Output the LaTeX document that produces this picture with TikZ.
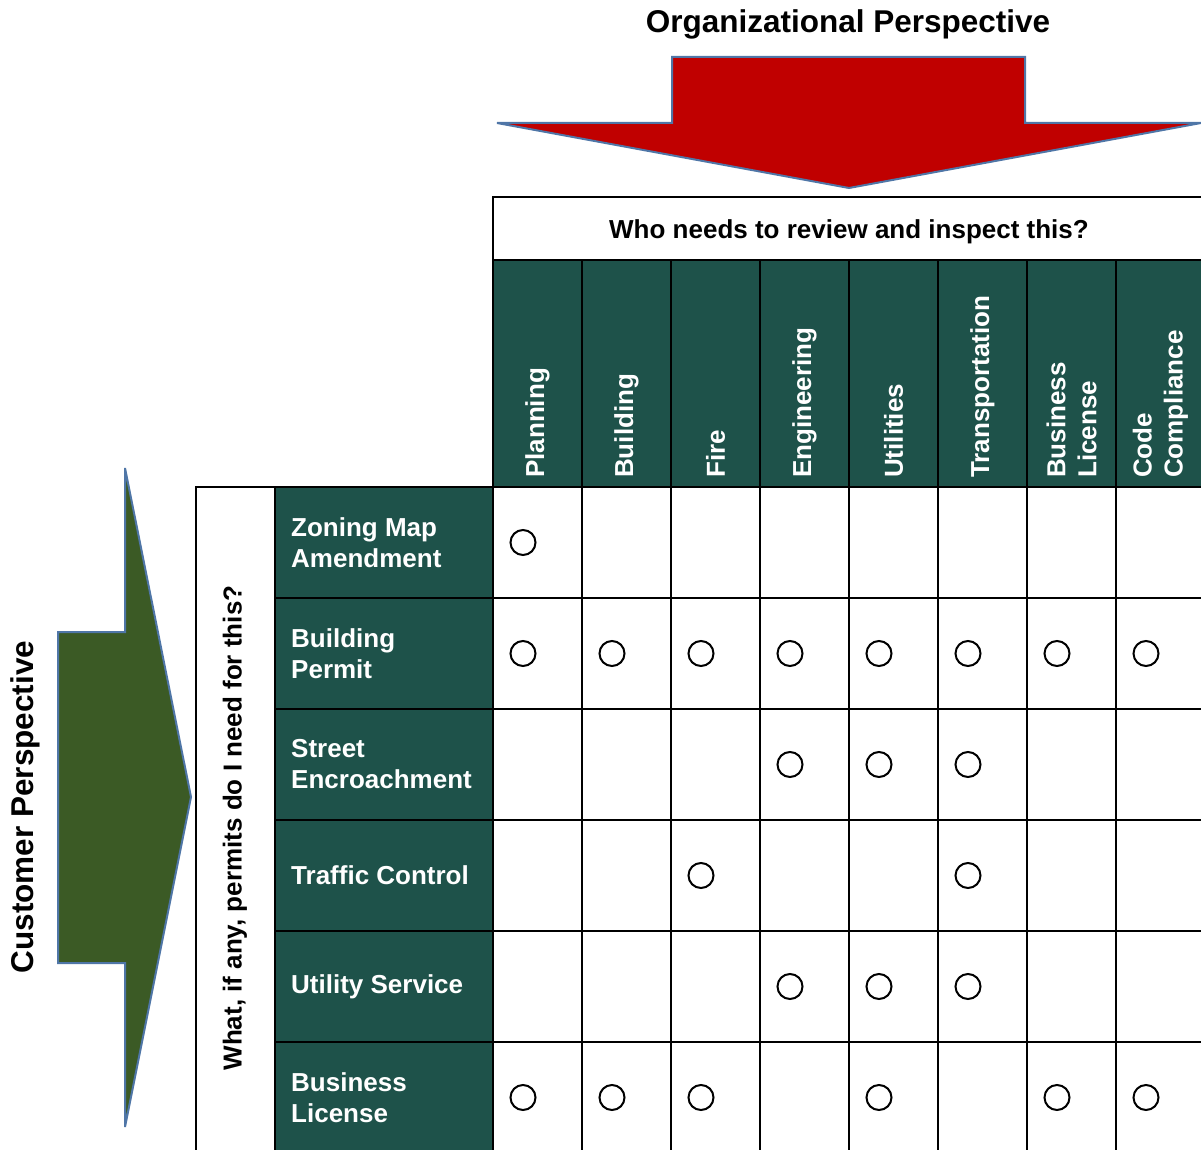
\documentclass[tikz,border=0pt]{standalone}
\usepackage{fontspec}
\setmainfont{Liberation Sans}
\usepackage{xcolor}
\usetikzlibrary{calc,positioning}

\definecolor{cellgreen}{RGB}{30,82,74}
\definecolor{arrowgreen}{RGB}{59,90,37}
\definecolor{arrowred}{RGB}{192,0,0}
\definecolor{arrowedge}{RGB}{79,118,167}

\tikzset{
    bigarrow/.style={draw=arrowedge, line width=2pt, line join=miter},
    gridline/.style={line width=2pt, black},
    titletext/.style={font=\bfseries\fontsize{31.5}{36}\selectfont, inner sep=0pt},
    qtext/.style={font=\bfseries\fontsize{26}{31}\selectfont, inner sep=0pt},
    depttext/.style={qtext, text=white, rotate=90, anchor=west, align=left},
    permittext/.style={qtext, text=white, anchor=west, align=left},
    tickcircle/.style={circle, draw, line width=2pt, minimum size=25pt, inner sep=0pt}
}

\begin{document}
\begin{tikzpicture}[x=1pt, y=-1pt]
        \useasboundingbox (0,0) rectangle (1201,1150);
        \clip (0,0) rectangle (1201,1150);

        % Parameters
        \def\gridX{493}         % left edge of the department columns
        \def\gridY{487}         % top edge of the first permit row
        \def\colW{89}           % width of a department column
        \def\rowH{111}          % height of a permit row

        % Big arrows
        \draw[bigarrow, fill=arrowred] (672,57) -- (1025,57) -- (1025,123) -- (1201,123)
            -- (849,188) -- (497,123) -- (672,123) -- cycle;
        \draw[bigarrow, fill=arrowgreen] (58,632) -- (125,632) -- (125,468) -- (191,797)
            -- (125,1127) -- (125,963) -- (58,963) -- cycle;

        % Titles
        \node[titletext] (orgtitle) at (848,24) {Organizational Perspective};
        \node[titletext, rotate=90] (custtitle) at (25,807) {Customer Perspective};

        % Heading fills
        \fill[cellgreen] (\gridX,260) rectangle (\gridX+8*\colW,\gridY);
        \fill[cellgreen] (275,\gridY) rectangle (\gridX,\gridY+6*\rowH);

        % Grid
        \draw[gridline] (\gridX,197) rectangle (\gridX+8*\colW,260);
        \draw[gridline] (196,\gridY) rectangle (275,\gridY+6*\rowH);
        \foreach \i in {0,...,8} {
            \draw[gridline] (\gridX+\i*\colW,260) -- (\gridX+\i*\colW,\gridY+6*\rowH);
        }
        \foreach \j in {0,...,6} {
            \draw[gridline] (275,\gridY+\j*\rowH) -- (\gridX+8*\colW,\gridY+\j*\rowH);
        }

        % Questions
        \node[qtext] (whoq) at (\gridX+4*\colW,232) {Who needs to review and inspect this?};
        \node[qtext, rotate=90] (whatq) at (235,828) {What, if any, permits do I need for this?};

        % Department headings
        \foreach \name [count=\i from 0] in {Planning, Building, Fire, Engineering, Utilities,
                Transportation, {Business\\License}, {Code\\Compliance}} {
            \node[depttext] (dept-\i) at (\gridX+\i*\colW+\colW/2,478) {\name};
        }

        % Permit rows
        \foreach \name [count=\j from 0] in {{Zoning Map\\Amendment}, {Building\\Permit},
                {Street\\Encroachment}, Traffic Control, Utility Service, {Business\\License}} {
            \node[permittext] (permit-\j) at (291,\gridY+\j*\rowH+\rowH/2) {\name};
        }

        % Review marks (row/column)
        \foreach \r/\c in {0/0,
                1/0, 1/1, 1/2, 1/3, 1/4, 1/5, 1/6, 1/7,
                2/3, 2/4, 2/5,
                3/2, 3/5,
                4/3, 4/4, 4/5,
                5/0, 5/1, 5/2, 5/4, 5/6, 5/7} {
            \node[tickcircle] (mark-\r-\c) at (\gridX+\c*\colW+30,\gridY+\r*\rowH+\rowH/2) {};
        }

\end{tikzpicture}
\end{document}
